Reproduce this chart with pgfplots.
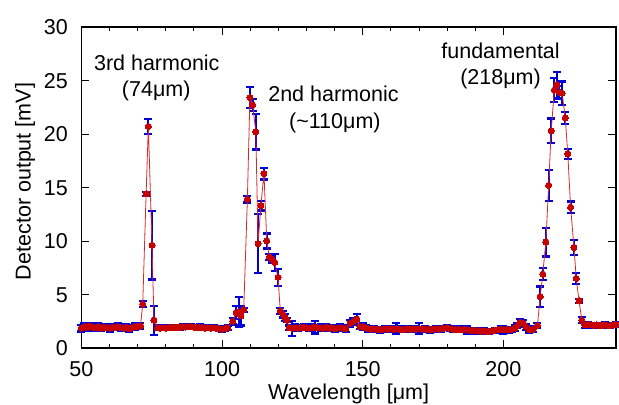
\documentclass[border=0pt]{standalone}
\usepackage{fontspec}
\setmainfont{Liberation Sans}
\usepackage{pgfplots}
\usepackage{pgfplotstable}
\pgfplotsset{compat=1.18}
\definecolor{dotred}{RGB}{200,0,0}
\definecolor{linered}{RGB}{215,40,40}
\definecolor{barblue}{RGB}{0,0,215}
\pgfplotstableread{
x y e
50 1.85 0.3
51 2.0 0.35
52 1.9 0.3
53 2.05 0.3
54 1.95 0.25
55 1.9 0.3
56 2.0 0.3
57 1.85 0.25
58 1.95 0.3
59 1.9 0.25
60 1.85 0.3
61 1.95 0.3
62 1.9 0.25
63 2.0 0.3
64 1.9 0.3
65 1.85 0.25
66 1.95 0.3
67 1.8 0.3
68 1.9 0.25
69 2.0 0.3
70 2.0 0.25
71 2.05 0.25
71.8 4.1 0.3
73.0 14.4 0.2
73.8 20.7 0.7
75.1 9.6 3.2
75.8 2.6 1.35
77.0 1.9 0.2
78 1.85 0.2
79 1.9 0.2
80 1.85 0.2
81 1.9 0.2
82 1.95 0.2
83 1.9 0.25
84 1.95 0.2
85 1.9 0.2
86 2.0 0.2
87 1.95 0.2
88 2.0 0.25
89 2.0 0.2
90 1.95 0.2
91 1.9 0.2
92 1.95 0.3
93 1.9 0.2
94 1.85 0.2
95 1.9 0.2
96 1.85 0.2
97 1.9 0.2
98 1.85 0.2
99 1.8 0.2
100 1.75 0.2
101 1.8 0.2
102 1.9 0.2
103.8 2.5 0.3
105.0 3.3 0.6
105.9 3.4 1.4
106.7 3.0 0.9
107.7 3.55 0.2
109.0 13.9 0.3
109.9 23.4 1.0
110.9 22.7 0.55
112.0 20.2 1.65
112.8 9.75 2.75
113.8 13.3 0.45
114.9 16.3 0.55
115.9 10.0 0.7
116.8 8.5 0.3
117.8 8.3 0.3
118.7 8.0 0.8
119.9 6.6 0.8
120.7 3.45 0.3
121.6 3.15 0.3
122.4 2.85 0.3
123.1 2.6 0.2
123.9 1.9 0.2
125 1.85 0.7
126 1.9 0.3
127 1.85 0.25
128 1.9 0.25
129 1.95 0.3
130 1.9 0.25
131 1.85 0.25
132 1.9 0.3
133 1.95 0.6
134 1.9 0.25
135 1.9 0.3
136 1.85 0.25
137 1.95 0.3
138 1.85 0.25
139 1.9 0.25
140 1.8 0.3
141 1.85 0.25
142 1.9 0.3
143 1.85 0.25
144 1.8 0.3
145.5 2.3 0.3
146.7 2.5 0.3
147.9 2.7 0.45
149.0 2.0 0.25
150 2.0 0.3
151 1.9 0.2
152 1.8 0.25
153 1.75 0.2
154 1.8 0.25
155 1.75 0.2
156 1.7 0.25
157 1.75 0.2
158 1.8 0.25
159 1.75 0.2
160 1.8 0.25
161 1.75 0.2
162 1.8 0.5
163 1.75 0.25
164 1.7 0.2
165 1.75 0.25
166 1.8 0.2
167 1.75 0.25
168 1.8 0.2
169 1.75 0.25
170 1.8 0.5
171 1.75 0.2
172 1.8 0.25
173 1.75 0.2
174 1.7 0.25
175 1.75 0.2
176 1.8 0.25
177 1.75 0.2
178 1.8 0.25
179 1.85 0.2
180 1.9 0.25
181 1.8 0.2
182 1.75 0.25
183 1.7 0.2
184 1.75 0.25
185 1.7 0.2
186 1.75 0.25
187 1.7 0.35
188 1.65 0.2
189 1.6 0.25
190 1.65 0.2
191 1.6 0.25
192 1.55 0.2
193 1.6 0.25
194 1.55 0.2
195 1.55 0.25
196 1.6 0.2
197 1.65 0.25
198 1.7 0.2
199 1.75 0.25
200 1.7 0.35
201 1.75 0.2
202 1.7 0.25
203 1.75 0.2
204.1 1.85 0.25
205.0 2.1 0.25
205.9 2.4 0.3
207.1 2.3 0.3
208.2 1.95 0.3
209.2 1.7 0.25
210.6 1.75 0.25
212.1 2.1 0.2
213.1 4.8 0.95
214.0 6.9 0.55
215.1 9.9 1.35
216.1 15.2 1.45
217.0 20.3 1.15
218.1 24.1 1.1
219.0 24.6 1.2
219.9 23.9 0.6
220.9 23.8 1.1
222.0 21.5 0.55
222.9 18.15 0.45
223.9 13.15 0.55
225.1 9.4 0.7
225.9 6.5 0.5
226.9 4.4 0.2
227.9 2.6 0.3
228.9 2.15 0.25
230 2.2 0.25
231 2.15 0.2
232 2.1 0.25
233 2.15 0.2
234 2.1 0.25
235 2.1 0.2
236 2.15 0.25
237 2.1 0.2
238 2.1 0.25
239 2.15 0.2
240 2.2 0.25
}\datatable
\begin{document}
\begin{tikzpicture}
\useasboundingbox (-81.4bp,-57bp) rectangle (537.6bp,348bp);
\begin{axis}[
  at={(0,0)}, anchor=south west,
  scale only axis, width=534.5bp, height=321bp,
  xmin=50, xmax=240, ymin=0, ymax=30,
  xtick={50,100,150,200}, minor x tick num=4,
  ytick={0,5,10,15,20,25,30},
  xtick pos=both, ytick pos=both, tick align=inside,
  major tick length=8bp, minor tick length=4bp,
  every tick/.style={black, line width=0.9bp},
  axis line style={black, line width=1.2bp},
  clip=false,
  /pgf/number format/assume math mode=true,
  ticklabel style={font=\fontsize{21.5bp}{25bp}\selectfont, inner sep=0pt},
  xticklabel style={anchor=base, yshift=-28bp},
  yticklabel style={anchor=base east, xshift=-13.4bp, yshift=-7.7bp},
  xlabel={Wavelength [μm]},
  ylabel={Detector output [mV]},
  label style={font=\fontsize{21.5bp}{25bp}\selectfont, inner sep=0pt},
  xlabel style={at={(axis description cs:0.5,-0.1589)}, anchor=base},
  ylabel style={at={(axis description cs:-0.0952,0.5187)}, anchor=base},
]
\addplot[barblue, line width=2.2bp, only marks, mark=none, forget plot,
  error bars/.cd, y dir=both, y explicit, error mark=|,
  error bar style={barblue, line width=2.2bp},
  error mark options={barblue, line width=2.2bp, mark size=4bp}]
  table[x=x, y=y, y error=e] {\datatable};
\addplot[linered, line width=0.8bp, mark=*, mark size=3bp,
  mark options={fill=dotred, draw=dotred, line width=0pt}]
  table[x=x, y=y] {\datatable};
\begin{scope}[every node/.style={font=\fontsize{21.5bp}{25bp}\selectfont, inner sep=0pt, anchor=base}]
\node at (axis cs:76.8,25.98) {3rd harmonic};
\node at (axis cs:76.6,23.46) {(74μm)};
\node at (axis cs:139.6,23.02) {2nd harmonic};
\node at (axis cs:140.1,20.56) {(\textasciitilde110μm)};
\node at (axis cs:199.0,27.07) {fundamental};
\node at (axis cs:199.0,24.58) {(218μm)};
\end{scope}
\end{axis}
\end{tikzpicture}
\end{document}
